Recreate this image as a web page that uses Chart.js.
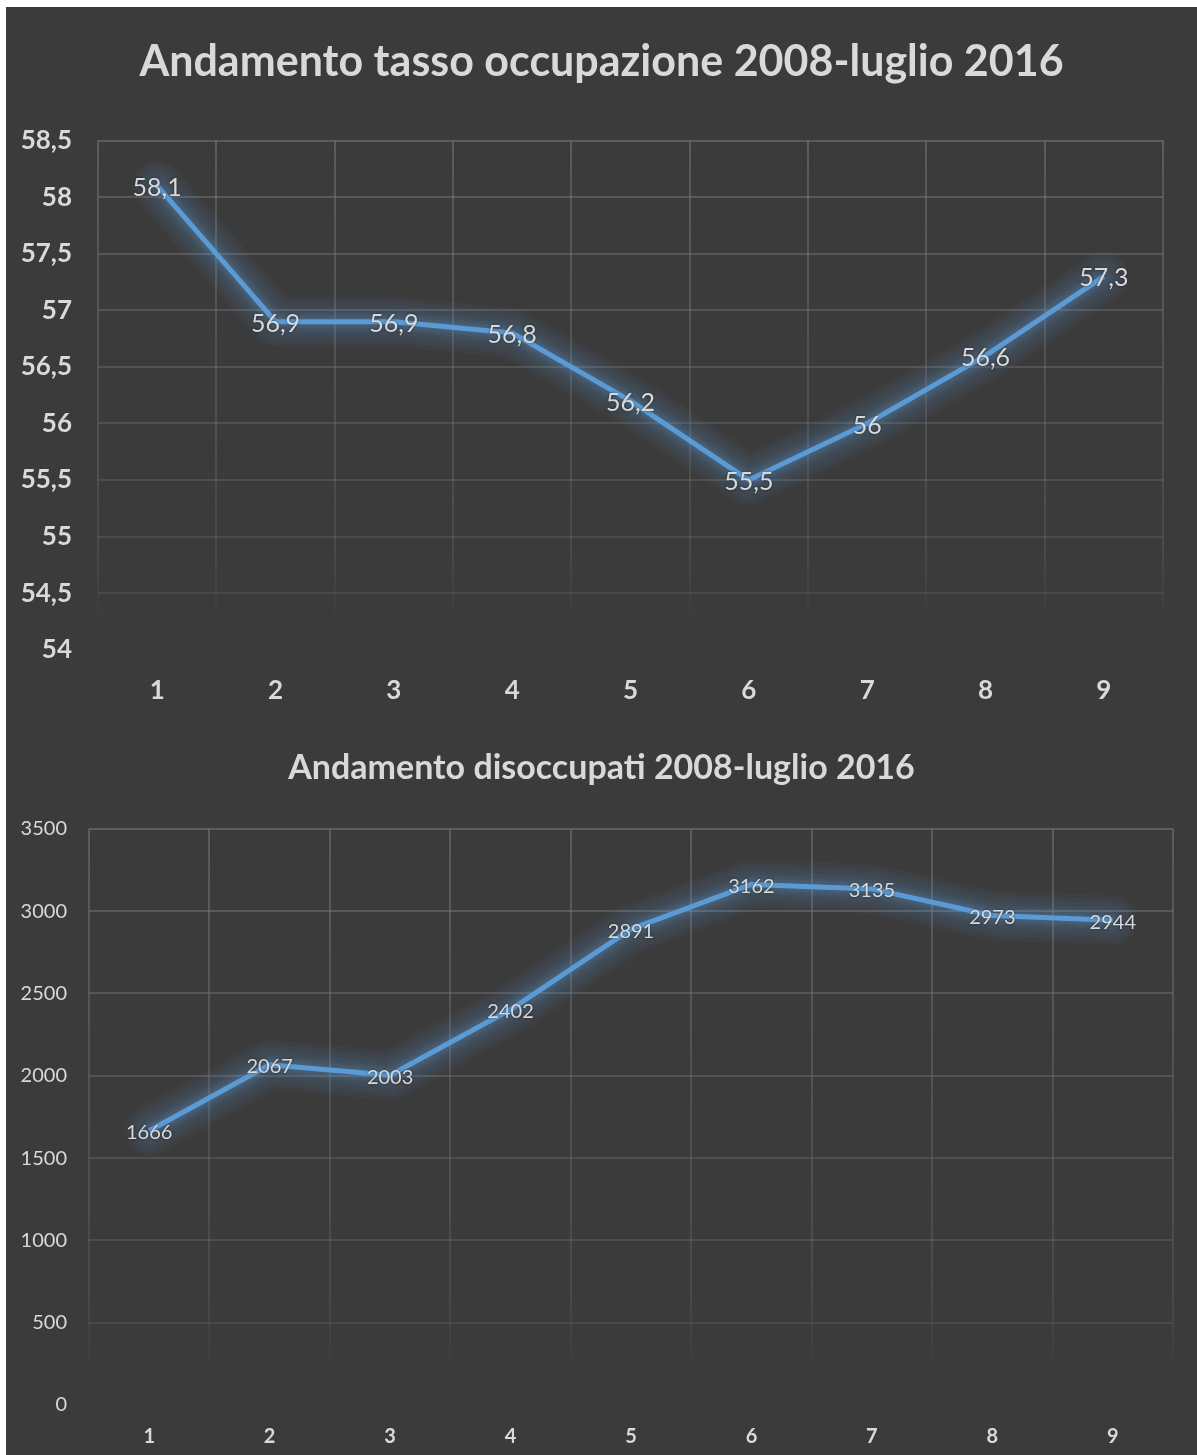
<!DOCTYPE html>
<html lang="it">
<head>
<meta charset="utf-8">
<title>Andamento occupazione e disoccupati 2008-luglio 2016</title>
<script src="https://cdn.jsdelivr.net/npm/chart.js@4.4.1/dist/chart.umd.min.js"></script>
<style>
    html, body { margin: 0; padding: 0; background: #fff; }
    body { width: 1197px; height: 1455px; position: relative; overflow: hidden; }
    #panel { position: absolute; left: 6px; top: 7px; width: 1191px; height: 1448px; background: #3b3b3b; overflow: hidden; }
    canvas { position: absolute; left: 0; }
    #occupazione { top: 0; }
    #disoccupati { top: 713px; }
</style>
</head>
<body>
<div id="panel">
    <canvas id="occupazione" width="1191" height="724"></canvas>
    <canvas id="disoccupati" width="1191" height="749"></canvas>
</div>
<script>
// periods 1..9 (2008 -> luglio 2016)
const periods = ['1', '2', '3', '4', '5', '6', '7', '8', '9'];

// tasso di occupazione (%)
const occupationRate = [58.1, 56.9, 56.9, 56.8, 56.2, 55.5, 56, 56.6, 57.3];
const occupationTicks = [54, 54.5, 55, 55.5, 56, 56.5, 57, 57.5, 58, 58.5];

// disoccupati (migliaia)
const unemployed = [1666, 2067, 2003, 2402, 2891, 3162, 3135, 2973, 2944];
const unemployedTicks = [0, 500, 1000, 1500, 2000, 2500, 3000, 3500];

const TEXT = '#d9d9d9';
const LINE = '#5b9bd5';
const FONT = 'Lato';

const itNumber = v => String(v).replace('.', ',');

// soft blue halo under the line, built from the points the line scale placed
const glow = {
    id: 'glow',
    beforeDatasetDraw(chart) {
        const ctx = chart.ctx;
        const pts = chart.getDatasetMeta(0).data;
        ctx.save();
        ctx.lineJoin = 'round';
        ctx.lineCap = 'round';
        ctx.strokeStyle = 'rgba(91, 155, 213, 0.05)';
        [50, 42, 34, 26, 18, 12].forEach(w => {
            ctx.lineWidth = w;
            ctx.beginPath();
            pts.forEach((p, i) => i ? ctx.lineTo(p.x, p.y) : ctx.moveTo(p.x, p.y));
            ctx.stroke();
        });
        ctx.restore();
        ctx.save();
        ctx.shadowColor = 'rgba(91, 155, 213, 0.45)';
        ctx.shadowBlur = 10;
    },
    afterDatasetDraw(chart) {
        chart.ctx.restore();
    }
};

const valueLabels = {
    id: 'valueLabels',
    afterDatasetsDraw(chart, args, opts) {
        const ctx = chart.ctx;
        const values = chart.data.datasets[0].data;
        ctx.save();
        ctx.font = `${opts.size}px ${FONT}`;
        ctx.fillStyle = TEXT;
        ctx.textAlign = 'center';
        ctx.textBaseline = 'middle';
        ctx.shadowColor = 'rgba(0, 0, 0, 0.5)';
        ctx.shadowBlur = 3;
        chart.getDatasetMeta(0).data.forEach((pt, i) => {
            ctx.fillText(itNumber(values[i]), pt.x, pt.y + 2);
        });
        ctx.restore();
    }
};

function hGridColor(ticks) {
    return c => {
        if (c.tick.value === ticks[0]) return 'transparent';
        const t = c.index / (ticks.length - 1);
        return `rgba(120, 120, 120, ${0.2 + 0.34 * t})`;
    };
}

function vGridColor(c) {
    const area = c.chart.chartArea;
    if (!area) return 'rgba(120,120,120,0.5)';
    const g = c.chart.ctx.createLinearGradient(0, area.top, 0, area.bottom);
    g.addColorStop(0, 'rgba(120, 120, 120, 0.54)');
    g.addColorStop(0.8, 'rgba(120, 120, 120, 0.25)');
    g.addColorStop(0.95, 'rgba(120, 120, 120, 0)');
    return g;
}

function lineChart(canvasId, opt) {
    return new Chart(document.getElementById(canvasId), {
        type: 'line',
        data: {
            labels: periods,
            datasets: [{
                data: opt.values,
                borderColor: LINE,
                borderWidth: 5,
                borderJoinStyle: 'round',
                pointRadius: 0,
                tension: 0,
                fill: false
            }]
        },
        options: {
            responsive: false,
            animation: false,
            layout: { padding: 0 },
            plugins: {
                legend: { display: false },
                tooltip: { enabled: false },
                title: {
                    display: true,
                    text: opt.title,
                    color: TEXT,
                    font: { family: FONT, size: opt.titleSize, weight: 'bold', lineHeight: 1.2 },
                    padding: opt.titlePadding
                },
                valueLabels: { size: opt.labelSize }
            },
            scales: {
                x: {
                    offset: true,
                    grid: { offset: true, drawTicks: false, color: vGridColor, lineWidth: 2 },
                    border: { display: false },
                    ticks: {
                        color: TEXT,
                        padding: opt.xPad,
                        font: { family: FONT, size: opt.tickSize, weight: 'bold' }
                    }
                },
                y: {
                    min: opt.ticks[0],
                    max: opt.ticks[opt.ticks.length - 1],
                    afterBuildTicks: s => { s.ticks = opt.ticks.map(v => ({ value: v })); },
                    afterFit: s => { s.width = opt.yWidth; },
                    grid: { drawTicks: false, color: hGridColor(opt.ticks), lineWidth: 2 },
                    border: { display: false },
                    ticks: {
                        color: TEXT,
                        padding: opt.yPad,
                        font: { family: FONT, size: opt.tickSize, weight: opt.tickWeight },
                        callback: v => itNumber(v)
                    }
                },
                // empty right-hand margin so the title stays centred on the canvas
                margin: {
                    type: 'linear',
                    position: 'right',
                    grid: { display: false },
                    border: { display: false },
                    ticks: { display: false },
                    afterFit: s => { s.width = opt.rightMargin; }
                }
            }
        },
        plugins: [glow, valueLabels]
    });
}

document.addEventListener('DOMContentLoaded', () => {
    lineChart('occupazione', {
        values: occupationRate,
        ticks: occupationTicks,
        title: 'Andamento tasso occupazione 2008-luglio 2016',
        titleSize: 43,
        titlePadding: { top: 29, bottom: 53 },
        tickSize: 26,
        tickWeight: 'bold',
        labelSize: 25,
        xPad: 25,
        yPad: 26,
        yWidth: 92,
        rightMargin: 34
    });

    lineChart('disoccupati', {
        values: unemployed,
        ticks: unemployedTicks,
        title: 'Andamento disoccupati 2008-luglio 2016',
        titleSize: 34,
        titlePadding: { top: 28, bottom: 40 },
        tickSize: 20,
        tickWeight: 'normal',
        labelSize: 20,
        xPad: 20,
        yPad: 22,
        yWidth: 83,
        rightMargin: 24
    });
});
</script>
</body>
</html>
